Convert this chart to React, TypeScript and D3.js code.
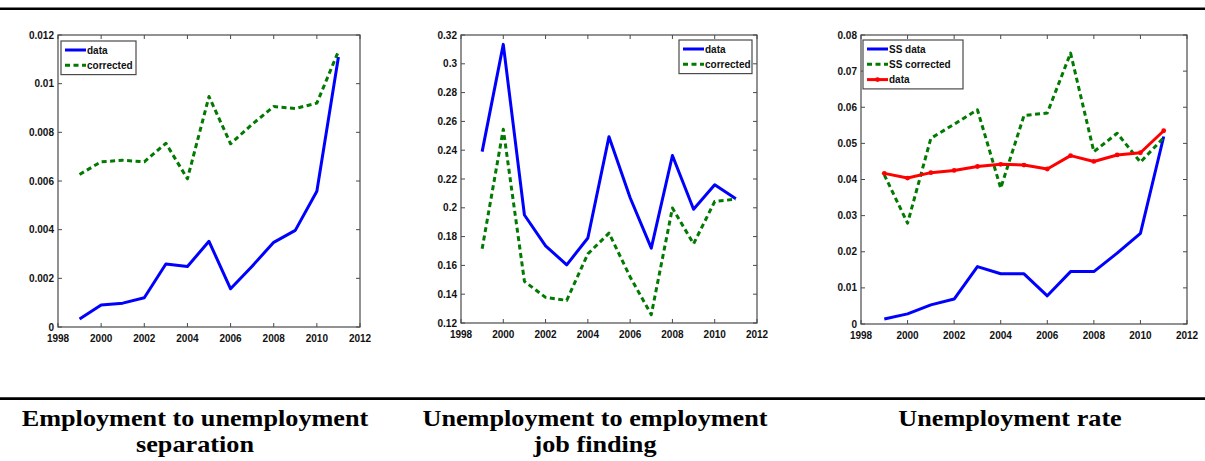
import React from "react";
import * as d3 from "d3";

// years on the x axis
const years = [1999, 2000, 2001, 2002, 2003, 2004, 2005, 2006, 2007, 2008, 2009, 2010, 2011];
const xTicks = [1998, 2000, 2002, 2004, 2006, 2008, 2010, 2012];

// panel 1: employment to unemployment separation
const sepData = [0.00033, 0.0009, 0.00098, 0.0012, 0.00259, 0.00249, 0.00352, 0.00157, 0.0025, 0.00348, 0.00397, 0.00558, 0.0111];
const sepCorrected = [0.00627, 0.00679, 0.00685, 0.00679, 0.00755, 0.00609, 0.00947, 0.00753, 0.00833, 0.00906, 0.00898, 0.0092, 0.01133];
const sepTicks = [0, 0.002, 0.004, 0.006, 0.008, 0.01, 0.012];
const sepTickLabels = ["0", "0.002", "0.004", "0.006", "0.008", "0.01", "0.012"];

// panel 2: unemployment to employment job finding
const jfData = [0.239, 0.3135, 0.195, 0.1736, 0.1604, 0.179, 0.2494, 0.207, 0.172, 0.2363, 0.199, 0.216, 0.2062];
const jfCorrected = [0.1715, 0.2546, 0.1489, 0.1378, 0.1357, 0.168, 0.1824, 0.152, 0.1258, 0.1998, 0.175, 0.2044, 0.206];
const jfTicks = [0.12, 0.14, 0.16, 0.18, 0.2, 0.22, 0.24, 0.26, 0.28, 0.3, 0.32];
const jfTickLabels = ["0.12", "0.14", "0.16", "0.18", "0.2", "0.22", "0.24", "0.26", "0.28", "0.3", "0.32"];

// panel 3: unemployment rate
const urSSData = [0.0014, 0.0028, 0.0053, 0.0069, 0.0159, 0.0139, 0.0139, 0.0078, 0.0145, 0.0145, 0.0196, 0.0251, 0.0519];
const urSSCorrected = [0.0413, 0.0279, 0.0514, 0.0553, 0.0593, 0.0376, 0.0577, 0.0584, 0.075, 0.0477, 0.0528, 0.0448, 0.0516];
const urData = [0.0417, 0.0404, 0.0419, 0.0425, 0.0436, 0.0442, 0.044, 0.0429, 0.0466, 0.045, 0.0468, 0.0474, 0.0535];
const urTicks = [0, 0.01, 0.02, 0.03, 0.04, 0.05, 0.06, 0.07, 0.08];
const urTickLabels = ["0", "0.01", "0.02", "0.03", "0.04", "0.05", "0.06", "0.07", "0.08"];

const titles = [
  ["Employment to unemployment", "separation"],
  ["Unemployment to employment", "job finding"],
  ["Unemployment rate"],
];

const BLUE = "#0000ff";
const GREEN = "#007a00";
const RED = "#ff0000";
const AXIS = "#4a4a4a";
const tickFont = "'Liberation Sans', Arial, sans-serif";

type Series = { label: string; values: number[]; color: string; dash?: string; marker?: boolean };

type PanelProps = {
  box: [number, number, number, number]; // left, top, right, bottom
  yDomain: [number, number];
  yTicks: number[];
  yTickLabels: string[];
  series: Series[];
  legendBox: [number, number, number]; // x, y, width
};

function Panel({ box, yDomain, yTicks, yTickLabels, series, legendBox }: PanelProps) {
  const [l, t, r, b] = box;
  const x = d3.scaleLinear().domain([1998, 2012]).range([l, r]);
  const y = d3.scaleLinear().domain(yDomain).range([b, t]);
  const line = d3
    .line<number>()
    .x((_, i) => x(years[i]))
    .y((d) => y(d));
  const tl = 4;
  const [lx, ly, lw] = legendBox;
  const rowH = 15.3;
  const lh = series.length * rowH + 3;

  return (
    <g>
      {/* ticks inside the box, on every side */}
      {xTicks.map((v) => (
        <g key={"x" + v}>
          <line x1={x(v)} x2={x(v)} y1={b} y2={b - tl} stroke={AXIS} />
          <line x1={x(v)} x2={x(v)} y1={t} y2={t + tl} stroke={AXIS} />
          <text
            x={x(v)}
            y={b + 15}
            textAnchor="middle"
            fontFamily={tickFont}
            fontWeight="bold"
            fontSize={10}
            fill="#111"
          >
            {v}
          </text>
        </g>
      ))}
      {yTicks.map((v, i) => (
        <g key={"y" + v}>
          <line x1={l} x2={l + tl} y1={y(v)} y2={y(v)} stroke={AXIS} />
          <line x1={r} x2={r - tl} y1={y(v)} y2={y(v)} stroke={AXIS} />
          <text
            x={l - 4}
            y={y(v)}
            dy="0.35em"
            textAnchor="end"
            fontFamily={tickFont}
            fontWeight="bold"
            fontSize={10}
            fill="#111"
          >
            {yTickLabels[i]}
          </text>
        </g>
      ))}
      <rect x={l} y={t} width={r - l} height={b - t} fill="none" stroke={AXIS} strokeWidth={1.2} />

      {series.map((s) => (
        <g key={s.label + s.color}>
          <path
            d={line(s.values) || ""}
            fill="none"
            stroke={s.color}
            strokeWidth={3}
            strokeDasharray={s.dash}
            strokeLinejoin="round"
          />
          {s.marker &&
            s.values.map((v, i) => <circle key={i} cx={x(years[i])} cy={y(v)} r={2.4} fill={s.color} />)}
        </g>
      ))}

      {/* legend */}
      <rect x={lx} y={ly} width={lw} height={lh} fill="#fff" stroke={AXIS} strokeWidth={1.2} />
      {series.map((s, i) => {
        const cy = ly + 9 + i * rowH;
        return (
          <g key={"lg" + i}>
            <line x1={lx + 4} x2={lx + 25} y1={cy} y2={cy} stroke={s.color} strokeWidth={3} strokeDasharray={s.dash} />
            {s.marker && <circle cx={lx + 14.5} cy={cy} r={2.4} fill={s.color} />}
            <text x={lx + 26} y={cy} dy="0.35em" fontFamily={tickFont} fontWeight="bold" fontSize={10} fill="#111">
              {s.label}
            </text>
          </g>
        );
      })}
    </g>
  );
}

export default function App() {
  const W = 1205;
  const H = 461;
  const dash = "5,3.5";
  const titleCenters = [195, 595, 1010];

  return (
    <svg width={W} height={H} style={{ position: "absolute", left: 0, top: 0, background: "#fff" }}>
      <rect x={0} y={0} width={W} height={H} fill="#fff" />
      <line x1={0} x2={W} y1={8.8} y2={8.8} stroke="#000" strokeWidth={2.6} />
      <line x1={0} x2={W} y1={398.6} y2={398.6} stroke="#000" strokeWidth={2.6} />

      <Panel
        box={[58, 35, 360, 327]}
        yDomain={[0, 0.012]}
        yTicks={sepTicks}
        yTickLabels={sepTickLabels}
        legendBox={[61, 41, 75]}
        series={[
          { label: "data", values: sepData, color: BLUE },
          { label: "corrected", values: sepCorrected, color: GREEN, dash },
        ]}
      />
      <Panel
        box={[461, 35, 757, 323]}
        yDomain={[0.12, 0.32]}
        yTicks={jfTicks}
        yTickLabels={jfTickLabels}
        legendBox={[679, 40, 73]}
        series={[
          { label: "data", values: jfData, color: BLUE },
          { label: "corrected", values: jfCorrected, color: GREEN, dash },
        ]}
      />
      <Panel
        box={[861, 35, 1187, 324]}
        yDomain={[0, 0.08]}
        yTicks={urTicks}
        yTickLabels={urTickLabels}
        legendBox={[863, 40, 100]}
        series={[
          { label: "SS data", values: urSSData, color: BLUE },
          { label: "SS corrected", values: urSSCorrected, color: GREEN, dash },
          { label: "data", values: urData, color: RED, marker: true },
        ]}
      />

      {titles.map((lines, i) =>
        lines.map((txt, j) => (
          <g key={i + "-" + j} transform={`translate(${titleCenters[i]},${425.7 + j * 26.5}) scale(1.14,1)`}>
            <text
              x={0}
              y={0}
              textAnchor="middle"
              fontFamily="'Liberation Serif', 'Times New Roman', serif"
              fontWeight="bold"
              fontSize={23}
              fill="#000"
            >
              {txt}
            </text>
          </g>
        ))
      )}
    </svg>
  );
}
